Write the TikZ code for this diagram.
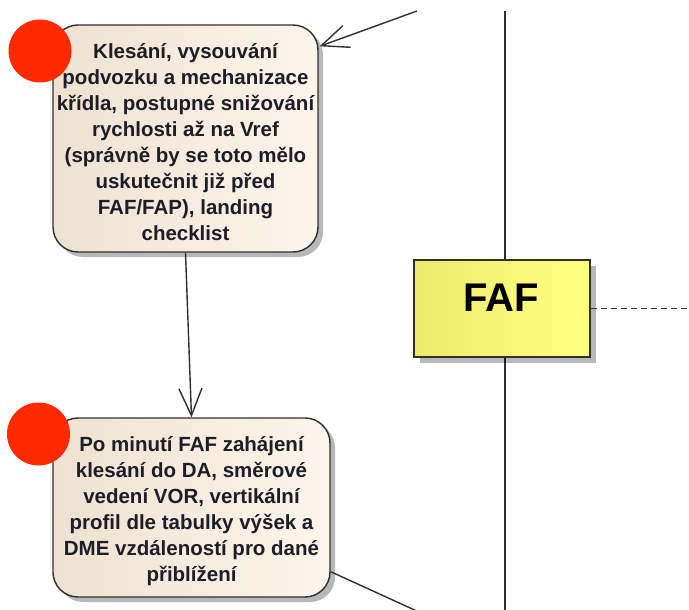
\documentclass[tikz,border=0pt]{standalone}
\usepackage{fontspec}
\setmainfont{Liberation Sans}
\usetikzlibrary{arrows.meta,shadows}

\definecolor{edge}{HTML}{303030}
\definecolor{ink}{HTML}{1E1E28}
\definecolor{beigeL}{HTML}{EEE1D1}
\definecolor{beigeR}{HTML}{FDF5EB}
\definecolor{yellowL}{HTML}{EBEB6C}
\definecolor{yellowR}{HTML}{FFFF82}
\definecolor{marker}{HTML}{FF2A00}

\tikzset{
  activity/.style={draw=edge, line width=1.4pt, rounded corners=25pt,
    left color=beigeL, right color=beigeR,
    drop shadow={shadow xshift=5pt, shadow yshift=-5pt, fill=black, opacity=0.28},
    inner sep=0pt},
  activitytext/.style={align=center, text=ink, inner sep=0pt,
    font=\bfseries\fontsize{20.5}{26}\selectfont},
  milestone/.style={draw=edge, line width=1.4pt,
    left color=yellowL, right color=yellowR,
    drop shadow={shadow xshift=6pt, shadow yshift=-6pt, fill=black, opacity=0.28},
    inner sep=0pt},
  milestonetext/.style={text=black, inner sep=0pt,
    font=\bfseries\fontsize{40}{48}\selectfont},
  startdot/.style={circle, fill=marker, minimum size=63pt, inner sep=0pt},
  flow/.style={draw=edge, line width=1.4pt,
    -{Straight Barb[length=27pt, width=23pt, line width=1.4pt]}},
  plainflow/.style={draw=edge, line width=1.4pt},
  timeline/.style={draw=edge, line width=1.6pt},
  marker line/.style={draw=edge, line width=1.3pt, dash pattern=on 6pt off 4pt},
}

\begin{document}
\begin{tikzpicture}[x=1pt, y=1pt]
  \useasboundingbox (0,0) rectangle (689,-610);

  % time axis behind the milestone
  \coordinate (axistop) at (505,-11);
  \coordinate (axisbottom) at (505,-612);
  \draw[timeline] (axistop) -- (axisbottom);

  % milestone
  \node[milestone, minimum width=176pt, minimum height=97pt] (faf) at (502,-308.5) {};
  \node[milestonetext] (faftext) at (501,-298) {FAF};
  \coordinate (fafright) at (689,-308.5);
  \draw[marker line] (faf.east) -- (fafright);

  % activities
  \node[activity, minimum width=265pt, minimum height=227pt] (descent) at (185.5,-138.5) {};
  \node[activitytext] (descenttext) at (185.5,-142) {Klesání, vysouvání\\podvozku a mechanizace\\křídla, postupné snižování\\rychlosti až na Vref\\(správně by se toto mělo\\uskutečnit již před\\FAF/FAP), landing\\checklist};

  \node[activity, minimum width=277pt, minimum height=179pt] (final) at (191.5,-507.5) {};
  \node[activitytext] (finaltext) at (191.5,-511.5) {Po minutí FAF zahájení\\klesání do DA, směrové\\vedení VOR, vertikální\\profil dle tabulky výšek a\\DME vzdáleností pro dané\\přiblížení};

  % start markers
  \node[startdot] (dot1) at (40,-51) {};
  \node[startdot] (dot2) at (38.5,-434) {};

  % connectors
  \coordinate (incoming) at (417,-11);
  \draw[flow] (incoming) -- ([xshift=1pt, yshift=-22pt]descent.north east);
  \draw[flow] (descent.south) -- (final.north);
  \coordinate (outgoing) at (419,-612);
  \draw[plainflow] ([yshift=26pt]final.south east) -- (outgoing);
\end{tikzpicture}
\end{document}
